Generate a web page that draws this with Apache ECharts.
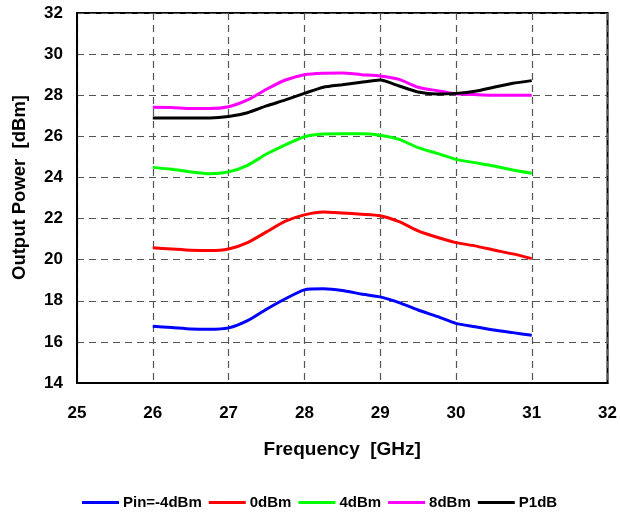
<!DOCTYPE html>
<html>
<head>
<meta charset="utf-8">
<script src="https://cdn.jsdelivr.net/npm/echarts@6/dist/echarts.min.js"></script>
<style>
  html, body { margin: 0; padding: 0; background: #fff; }
  #chart { width: 620px; height: 513px; }
</style>
</head>
<body>
<div id="chart"></div>
<script>
// Output power vs. frequency for several input drive levels
const freqGHz = [26, 26.25, 26.5, 26.75, 27, 27.25, 27.5, 27.75, 28, 28.25, 28.5, 28.75, 29, 29.25, 29.5, 29.75, 30, 30.25, 30.5, 30.75, 31];

const pinMinus4 = [16.76, 16.70, 16.63, 16.61, 16.68, 17.03, 17.59, 18.10, 18.53, 18.58, 18.50, 18.33, 18.19, 17.91, 17.55, 17.24, 16.90, 16.74, 16.58, 16.45, 16.32];
const pin0      = [20.58, 20.52, 20.46, 20.44, 20.52, 20.83, 21.35, 21.87, 22.18, 22.32, 22.27, 22.21, 22.14, 21.85, 21.40, 21.09, 20.83, 20.67, 20.47, 20.28, 20.05];
const pin4      = [24.49, 24.40, 24.27, 24.18, 24.27, 24.59, 25.14, 25.59, 25.98, 26.11, 26.12, 26.12, 26.05, 25.85, 25.45, 25.17, 24.88, 24.72, 24.56, 24.36, 24.20];
const pin8      = [27.41, 27.40, 27.35, 27.35, 27.44, 27.77, 28.29, 28.74, 29.00, 29.07, 29.08, 29.00, 28.94, 28.77, 28.39, 28.22, 28.07, 28.03, 28.00, 28.00, 28.00];
const p1dB      = [26.89, 26.89, 26.89, 26.89, 26.96, 27.15, 27.48, 27.77, 28.09, 28.39, 28.51, 28.63, 28.74, 28.45, 28.16, 28.06, 28.09, 28.19, 28.39, 28.58, 28.71];

const seriesNames = ['Pin=-4dBm', '0dBm', '4dBm', '8dBm', 'P1dB'];
const seriesColors = ['#0000ff', '#ff0000', '#00ff00', '#ff00ff', '#000000'];
const seriesValues = [pinMinus4, pin0, pin4, pin8, p1dB];

const xTicks = [25, 26, 27, 28, 29, 30, 31, 32];
const yTicks = [14, 16, 18, 20, 22, 24, 26, 28, 30, 32];

const font = 'Liberation Sans, Arial, sans-serif';
const dashedGrid = { show: true, lineStyle: { color: '#555', type: [7, 5], width: 1.2 } };

const chart = echarts.init(document.getElementById('chart'), null, { renderer: 'canvas' });

chart.setOption({
  animation: false,
  backgroundColor: '#fff',
  grid: {
    left: 77, top: 13, width: 531, height: 370,
    show: true, borderColor: '#000', borderWidth: 2, backgroundColor: 'transparent'
  },
  // y-axis title, placed by hand so it sits slightly above the plot's centre
  graphic: [{
    type: 'text',
    left: 10, top: 95,
    rotation: Math.PI / 2,
    style: {
      text: 'Output Power  [dBm]',
      font: 'bold 18.5px ' + font,
      fill: '#000'
    }
  }],
  xAxis: {
    type: 'value',
    min: xTicks[0], max: xTicks[xTicks.length - 1], interval: 1,
    name: 'Frequency  [GHz]',
    nameLocation: 'middle', nameGap: 57,
    nameTextStyle: { fontFamily: font, fontWeight: 'bold', fontSize: 19, color: '#000' },
    axisLine: { show: true, lineStyle: { color: '#000', width: 2 } },
    axisTick: { show: false },
    axisLabel: { fontFamily: font, fontWeight: 'bold', fontSize: 17, color: '#000', margin: 22 },
    splitLine: dashedGrid
  },
  yAxis: {
    type: 'value',
    min: yTicks[0], max: yTicks[yTicks.length - 1], interval: 2,
    axisLine: { show: true, lineStyle: { color: '#000', width: 2 } },
    axisTick: { show: false },
    axisLabel: { fontFamily: font, fontWeight: 'bold', fontSize: 17, color: '#000', margin: 14 },
    splitLine: dashedGrid
  },
  legend: {
    data: seriesNames,
    left: 82, top: 495, padding: 0,
    icon: 'rect', itemWidth: 37, itemHeight: 3, itemGap: 7,
    textStyle: { fontFamily: font, fontWeight: 'bold', fontSize: 15, color: '#000', padding: [0, 0, 0, -1] }
  },
  series: seriesNames.map((name, i) => ({
    name: name,
    type: 'line',
    data: freqGHz.map((f, j) => [f, seriesValues[i][j]]),
    showSymbol: false,
    smooth: 0.2,
    lineStyle: { color: seriesColors[i], width: 3 },
    itemStyle: { color: seriesColors[i] },
    z: 3 + (i === 4 ? 1 : 0)
  }))
});
</script>
</body>
</html>
